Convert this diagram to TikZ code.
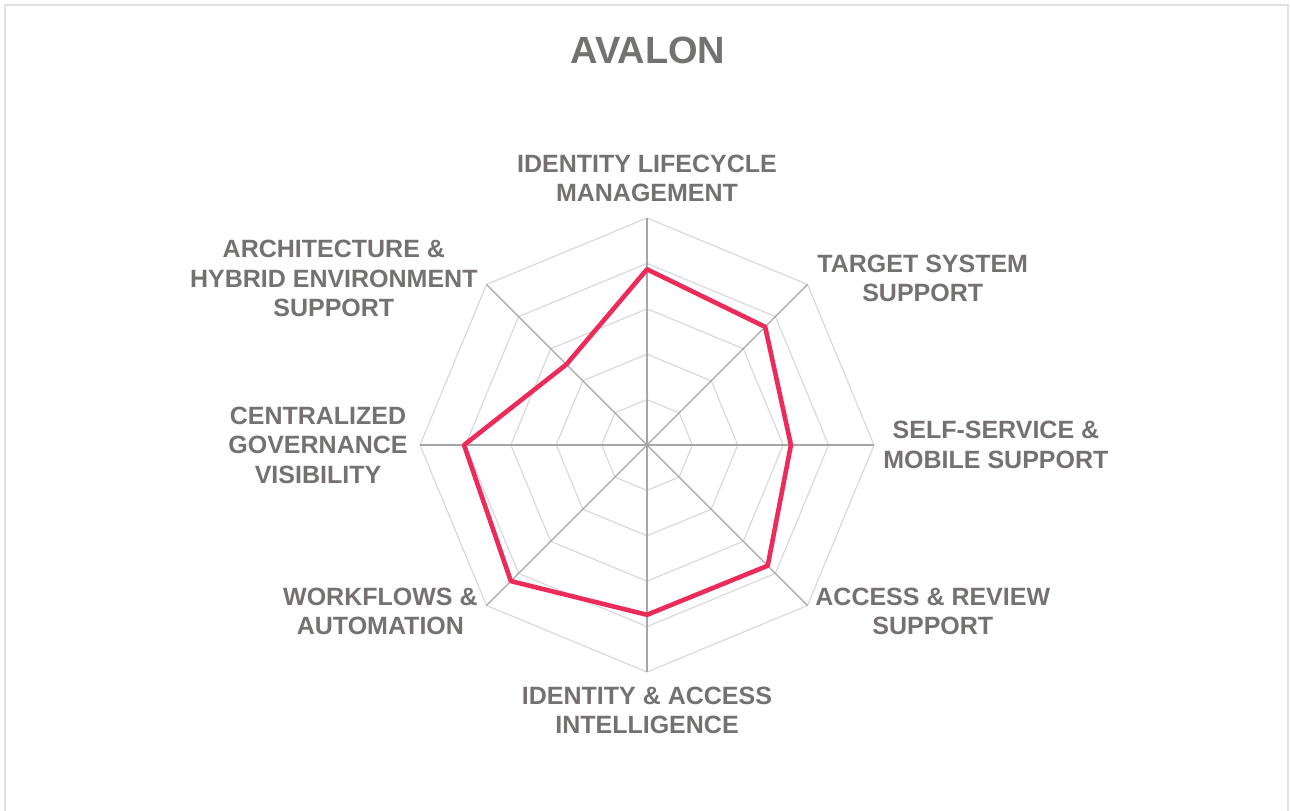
\documentclass[tikz,border=0pt]{standalone}
\usepackage{fontspec}
\setmainfont{Liberation Sans}
\definecolor{txtgray}{HTML}{767171}
\definecolor{ringgray}{HTML}{D9D9D9}
\definecolor{spokegray}{HTML}{A6A6A6}
\definecolor{scorered}{HTML}{EC2B5B}
\definecolor{framegray}{HTML}{E1E1E6}

\begin{document}
\begin{tikzpicture}[x=0.5pt,y=0.5pt,
        axislabel/.style={inner sep=0pt,align=center,text=txtgray,font=\fontsize{12.5}{14.75}\selectfont\bfseries},
        ring/.style={draw=ringgray,line width=0.6pt},
        spoke/.style={draw=spokegray,line width=0.6pt},
        score/.style={draw=scorered,line width=2.3pt,line join=round}]
            \useasboundingbox (0,0) rectangle (1290,810);
            \draw[framegray,line width=1pt] (5,-20)--(5,805)--(1288,805)--(1288,-20);
            \node[inner sep=0pt,text=txtgray,font=\fontsize{19}{22}\selectfont\bfseries,anchor=base] (title) at (648,746.7) {AVALON};

            \coordinate (c) at (647,365);
            \begin{scope}[shift={(c)},x=22.7pt,y=22.7pt]
                \draw[ring] (90:1)--(45:1)--(0:1)--(-45:1)--(-90:1)--(-135:1)--(180:1)--(135:1)--cycle;
                \draw[ring] (90:2)--(45:2)--(0:2)--(-45:2)--(-90:2)--(-135:2)--(180:2)--(135:2)--cycle;
                \draw[ring] (90:3)--(45:3)--(0:3)--(-45:3)--(-90:3)--(-135:3)--(180:3)--(135:3)--cycle;
                \draw[ring] (90:4)--(45:4)--(0:4)--(-45:4)--(-90:4)--(-135:4)--(180:4)--(135:4)--cycle;
                \draw[ring] (90:5)--(45:5)--(0:5)--(-45:5)--(-90:5)--(-135:5)--(180:5)--(135:5)--cycle;
                \draw[spoke] (90:5)--(-90:5);
                \draw[spoke] (45:5)--(-135:5);
                \draw[spoke] (0:5)--(180:5);
                \draw[spoke] (-45:5)--(135:5);

                \draw[score] (90:3.87)--(45:3.68)--(0:3.17)--(-45:3.76)--(-90:3.74)--(-135:4.24)--(180:4.03)--(135:2.51)--cycle;
            \end{scope}

            \node[axislabel] (lifecycle) at (647,631.7) {IDENTITY LIFECYCLE\\MANAGEMENT};
            \node[axislabel,anchor=west] (target) at (817,531.7) {TARGET SYSTEM\\SUPPORT};
            \node[axislabel,anchor=west] (selfservice) at (883,365) {SELF-SERVICE \&\\MOBILE SUPPORT};
            \node[axislabel,anchor=west] (review) at (815,198.7) {ACCESS \& REVIEW\\SUPPORT};
            \node[axislabel] (intelligence) at (647,99.7) {IDENTITY \& ACCESS\\INTELLIGENCE};
            \node[axislabel,anchor=east] (workflows) at (478,198.5) {WORKFLOWS \&\\AUTOMATION};
            \node[axislabel,anchor=east] (governance) at (408,365) {CENTRALIZED\\GOVERNANCE\\VISIBILITY};
            \node[axislabel,anchor=east] (architecture) at (478,531.5) {ARCHITECTURE \&\\HYBRID ENVIRONMENT\\SUPPORT};
        \end{tikzpicture}
\end{document}
